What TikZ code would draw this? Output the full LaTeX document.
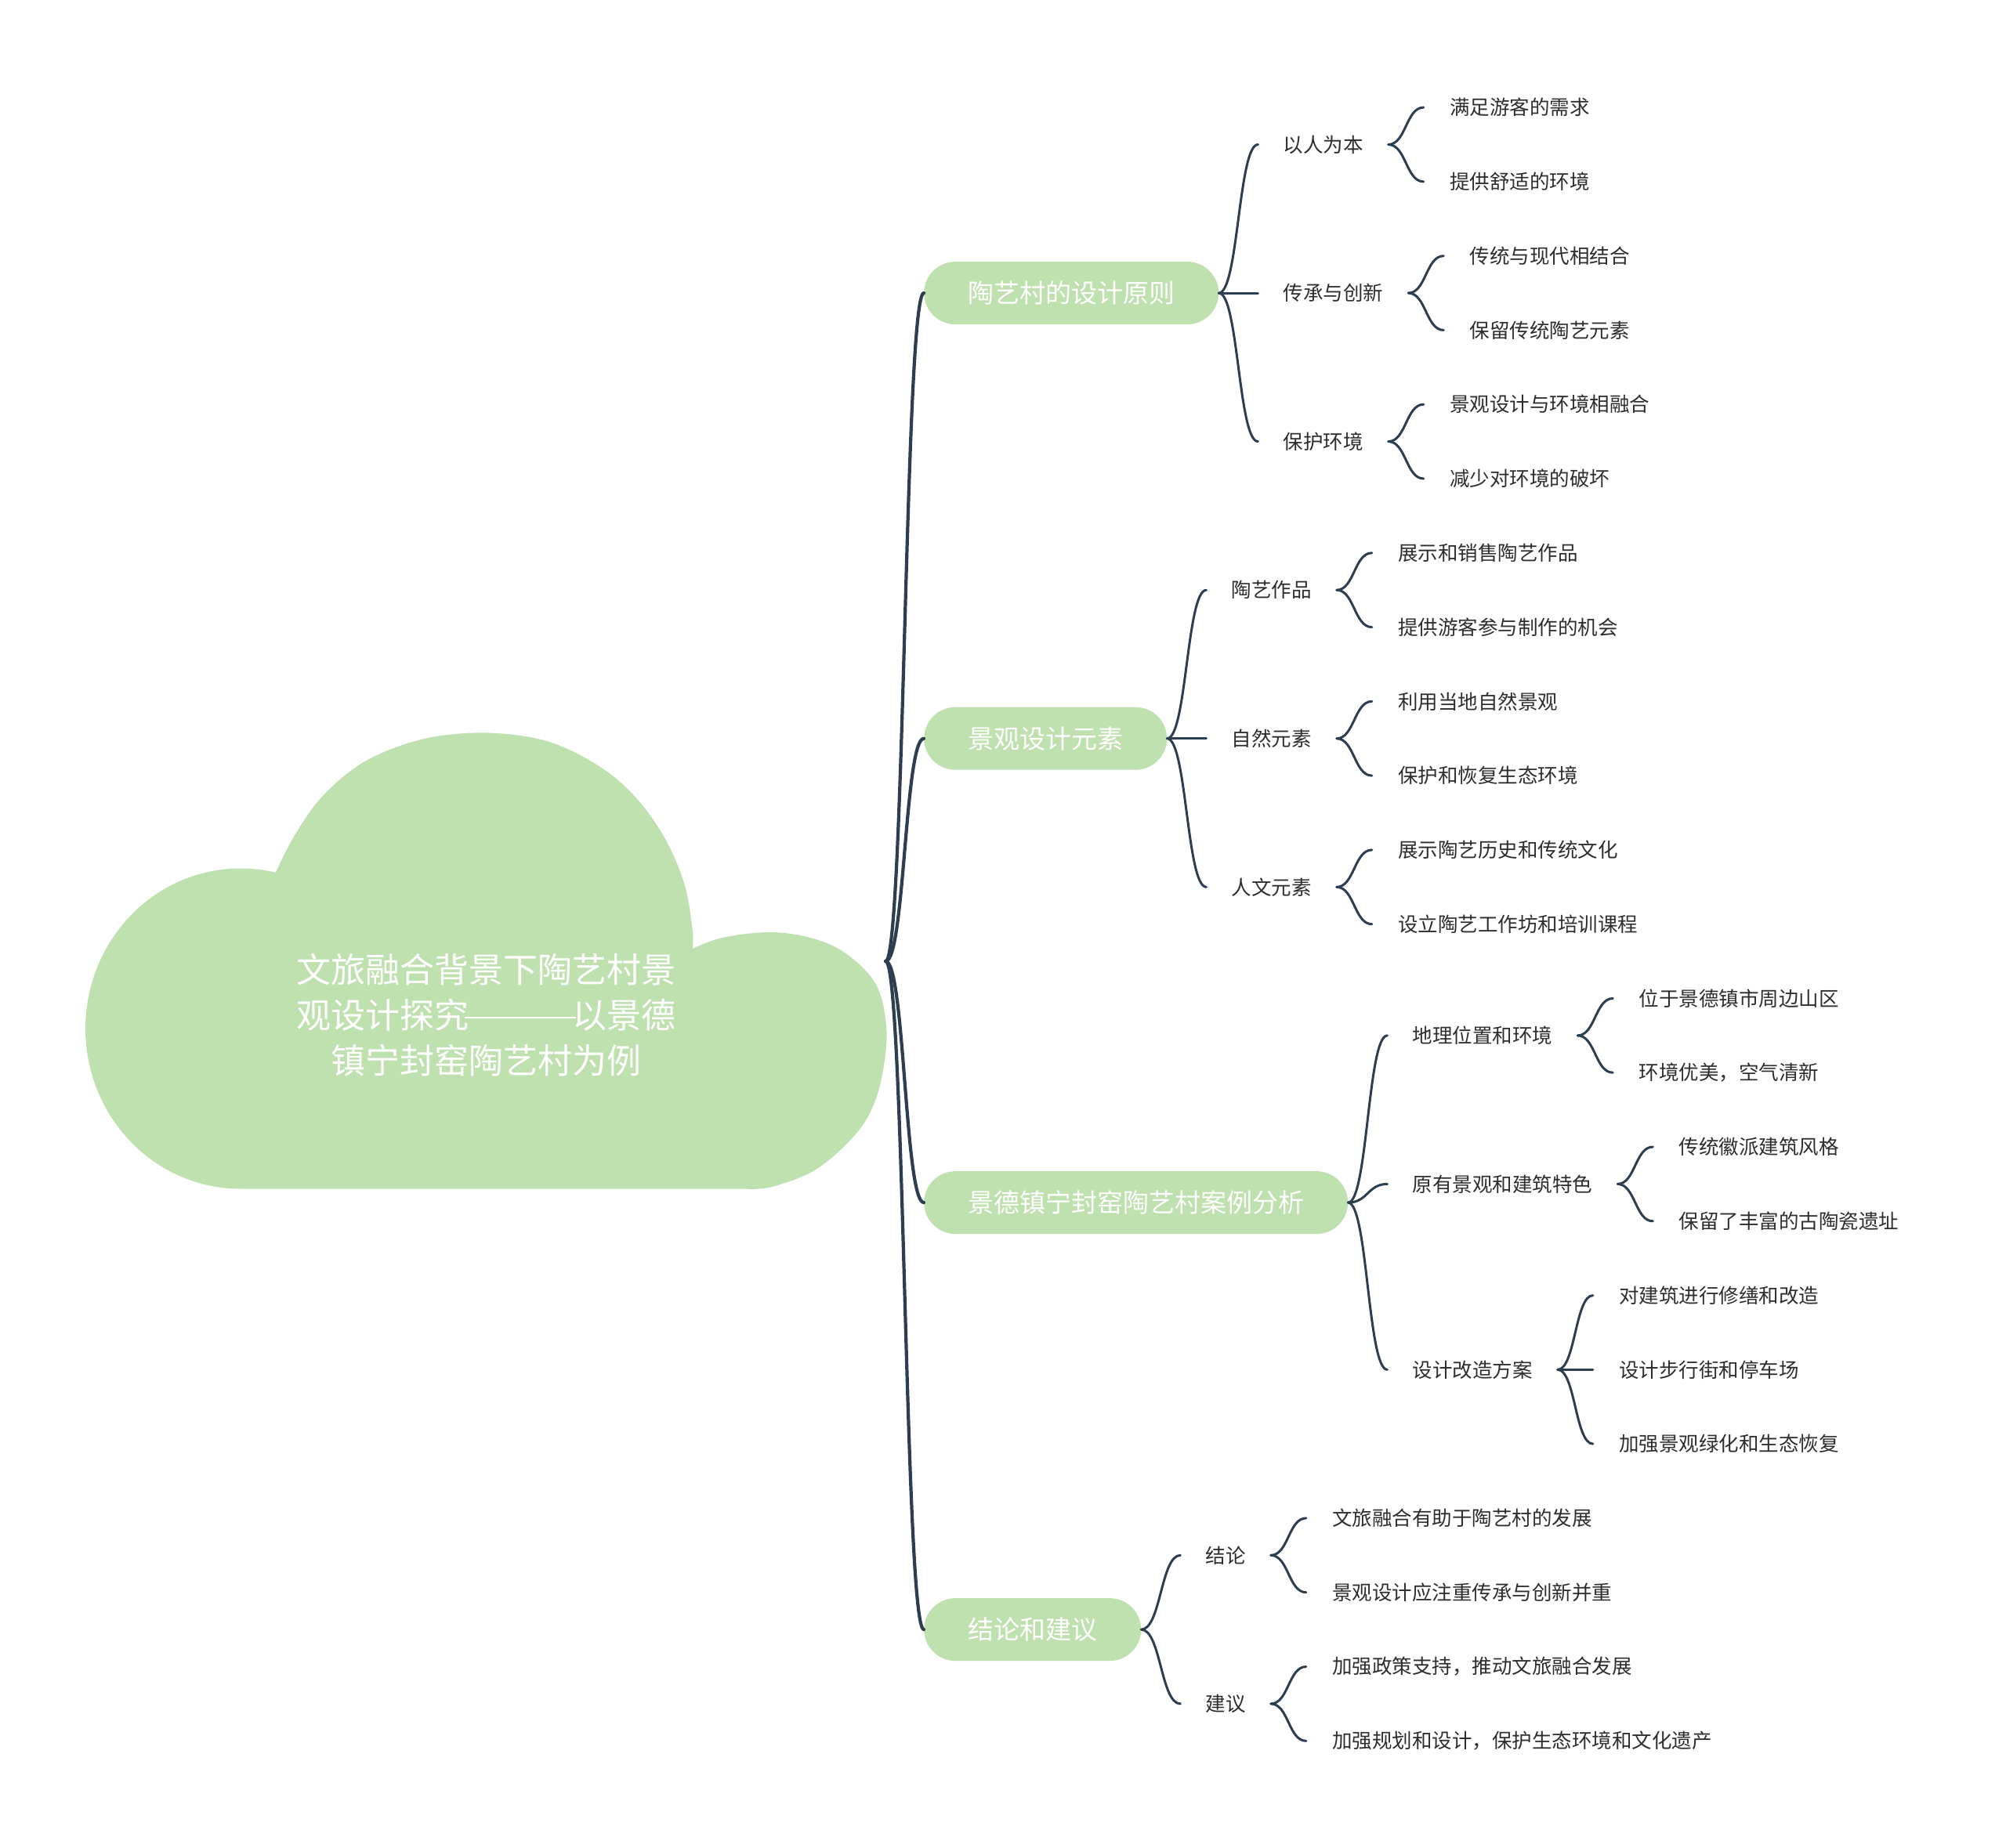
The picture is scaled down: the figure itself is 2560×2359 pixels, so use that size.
\documentclass[tikz,border=0pt]{standalone}
\usepackage{fontspec}
\setmainfont{Noto Sans CJK SC}
\usetikzlibrary{calc}
\definecolor{cloudgreen}{RGB}{191,225,175}
\definecolor{linecol}{RGB}{44,62,80}
\definecolor{txtcol}{RGB}{45,45,45}
\newcommand{\longdash}{\makebox[3em]{\rule[0.29em]{3.22em}{2.2pt}}}
\tikzset{
  curvy/.style={to path={(\tikztostart) .. controls ($(\tikztostart)!0.5!(\tikztotarget|-\tikztostart)$) and ($(\tikztostart|-\tikztotarget)!0.5!(\tikztotarget)$) .. (\tikztotarget)}},
  mainline/.style={draw=linecol, line width=4.2pt, line cap=round},
  subline/.style={draw=linecol, line width=3pt, line cap=round},
  branchbox/.style={fill=cloudgreen, rounded corners=40pt, minimum height=80pt, inner xsep=56pt, inner ysep=0pt, text=white, font=\fontsize{33}{40}\selectfont, anchor=west},
  subtext/.style={text=txtcol, font=\fontsize{25.5}{30}\selectfont, inner xsep=32pt, inner ysep=4pt, anchor=west},
  leaftext/.style={text=txtcol, font=\fontsize{25.5}{30}\selectfont, inner xsep=33pt, inner ysep=4pt, anchor=west},
  titletext/.style={text=white, align=center, font=\fontsize{44}{58}\selectfont, inner sep=0pt},
}
\begin{document}
\begin{tikzpicture}[x=1pt, y=-1pt]
\useasboundingbox (0,0) rectangle (2560,2359);
% cloud
\fill[cloudgreen]
  plot[smooth, tension=0.6] coordinates {(351.2,1115.1) (375,1068) (410,1018) (459,976) (515,950.5) (571,938) (634,936) (697.5,946) (754,971.5) (803,1009) (845,1064) (873,1127) (883.5,1186) (884,1211)}
  -- plot[smooth, tension=0.6] coordinates {(884,1211) (922,1197) (985,1190) (1041,1199) (1083.5,1220) (1118.6,1258) (1131,1310) (1128,1360) (1115,1410) (1090,1450) (1041,1493) (985,1515) (950,1517.5)}
  -- (307,1517.5)
  arc[start angle=90, end angle=282.9, x radius=198, y radius=204.5]
  -- cycle;
\node[minimum width=1020pt, minimum height=582pt, inner sep=0pt] (root) at (620,1227) {};
\node[titletext] (title) at (620,1296) {文旅融合背景下陶艺村景\\观设计探究\longdash 以景德\\镇宁封窑陶艺村为例};

% branches
\node[branchbox] (b1) at (1179,374.05) {陶艺村的设计原则};
\node[branchbox] (b2) at (1179,942.7) {景观设计元素};
\node[branchbox] (b3) at (1179,1535.1) {景德镇宁封窑陶艺村案例分析};
\node[branchbox] (b4) at (1179,2080.1) {结论和建议};

% sub nodes
\node[subtext] (s11) at ($(b1.east |- 0,184.5)+(50,0)$) {以人为本};
\node[subtext] (s12) at ($(b1.east |- 0,374.05)+(50,0)$) {传承与创新};
\node[subtext] (s13) at ($(b1.east |- 0,563.6)+(50,0)$) {保护环境};
\node[subtext] (s21) at ($(b2.east |- 0,753.2)+(50,0)$) {陶艺作品};
\node[subtext] (s22) at ($(b2.east |- 0,942.7)+(50,0)$) {自然元素};
\node[subtext] (s23) at ($(b2.east |- 0,1132.3)+(50,0)$) {人文元素};
\node[subtext] (s31) at ($(b3.east |- 0,1321.85)+(50,0)$) {地理位置和环境};
\node[subtext] (s32) at ($(b3.east |- 0,1511.4)+(50,0)$) {原有景观和建筑特色};
\node[subtext] (s33) at ($(b3.east |- 0,1748.35)+(50,0)$) {设计改造方案};
\node[subtext] (s41) at ($(b4.east |- 0,1985.3)+(50,0)$) {结论};
\node[subtext] (s42) at ($(b4.east |- 0,2174.9)+(50,0)$) {建议};

% leaves
\node[leaftext] (l0) at ($(s11.east |- 0,137.1)+(45,0)$) {满足游客的需求};
\node[leaftext] (l1) at ($(s11.east |- 0,231.9)+(45,0)$) {提供舒适的环境};
\node[leaftext] (l2) at ($(s12.east |- 0,326.7)+(45,0)$) {传统与现代相结合};
\node[leaftext] (l3) at ($(s12.east |- 0,421.4)+(45,0)$) {保留传统陶艺元素};
\node[leaftext] (l4) at ($(s13.east |- 0,516.2)+(45,0)$) {景观设计与环境相融合};
\node[leaftext] (l5) at ($(s13.east |- 0,611.0)+(45,0)$) {减少对环境的破坏};
\node[leaftext] (l6) at ($(s21.east |- 0,705.8)+(45,0)$) {展示和销售陶艺作品};
\node[leaftext] (l7) at ($(s21.east |- 0,800.6)+(45,0)$) {提供游客参与制作的机会};
\node[leaftext] (l8) at ($(s22.east |- 0,895.3)+(45,0)$) {利用当地自然景观};
\node[leaftext] (l9) at ($(s22.east |- 0,990.1)+(45,0)$) {保护和恢复生态环境};
\node[leaftext] (l10) at ($(s23.east |- 0,1084.9)+(45,0)$) {展示陶艺历史和传统文化};
\node[leaftext] (l11) at ($(s23.east |- 0,1179.7)+(45,0)$) {设立陶艺工作坊和培训课程};
\node[leaftext] (l12) at ($(s31.east |- 0,1274.5)+(45,0)$) {位于景德镇市周边山区};
\node[leaftext] (l13) at ($(s31.east |- 0,1369.2)+(45,0)$) {环境优美，空气清新};
\node[leaftext] (l14) at ($(s32.east |- 0,1464.0)+(45,0)$) {传统徽派建筑风格};
\node[leaftext] (l15) at ($(s32.east |- 0,1558.8)+(45,0)$) {保留了丰富的古陶瓷遗址};
\node[leaftext] (l16) at ($(s33.east |- 0,1653.6)+(45,0)$) {对建筑进行修缮和改造};
\node[leaftext] (l17) at ($(s33.east |- 0,1748.35)+(45,0)$) {设计步行街和停车场};
\node[leaftext] (l18) at ($(s33.east |- 0,1843.1)+(45,0)$) {加强景观绿化和生态恢复};
\node[leaftext] (l19) at ($(s41.east |- 0,1937.9)+(45,0)$) {文旅融合有助于陶艺村的发展};
\node[leaftext] (l20) at ($(s41.east |- 0,2032.7)+(45,0)$) {景观设计应注重传承与创新并重};
\node[leaftext] (l21) at ($(s42.east |- 0,2127.5)+(45,0)$) {加强政策支持，推动文旅融合发展};
\node[leaftext] (l22) at ($(s42.east |- 0,2222.3)+(45,0)$) {加强规划和设计，保护生态环境和文化遗产};

% main connectors
\foreach \b in {b1,b2,b3,b4} \draw[mainline] (root.east) to[curvy] (\b.west);

% branch to sub
\foreach \b/\s in {b1/s11,b1/s12,b1/s13,b2/s21,b2/s22,b2/s23,b3/s31,b3/s32,b3/s33,b4/s41,b4/s42}
  \draw[subline] (\b.east) to[curvy] (\s.west);

% sub to leaf
\foreach \s/\l in {s11/l0,s11/l1,s12/l2,s12/l3,s13/l4,s13/l5,s21/l6,s21/l7,s22/l8,s22/l9,s23/l10,s23/l11,s31/l12,s31/l13,s32/l14,s32/l15,s33/l16,s33/l17,s33/l18,s41/l19,s41/l20,s42/l21,s42/l22}
  \draw[subline] (\s.east) to[curvy] (\l.west);
\end{tikzpicture}
\end{document}
